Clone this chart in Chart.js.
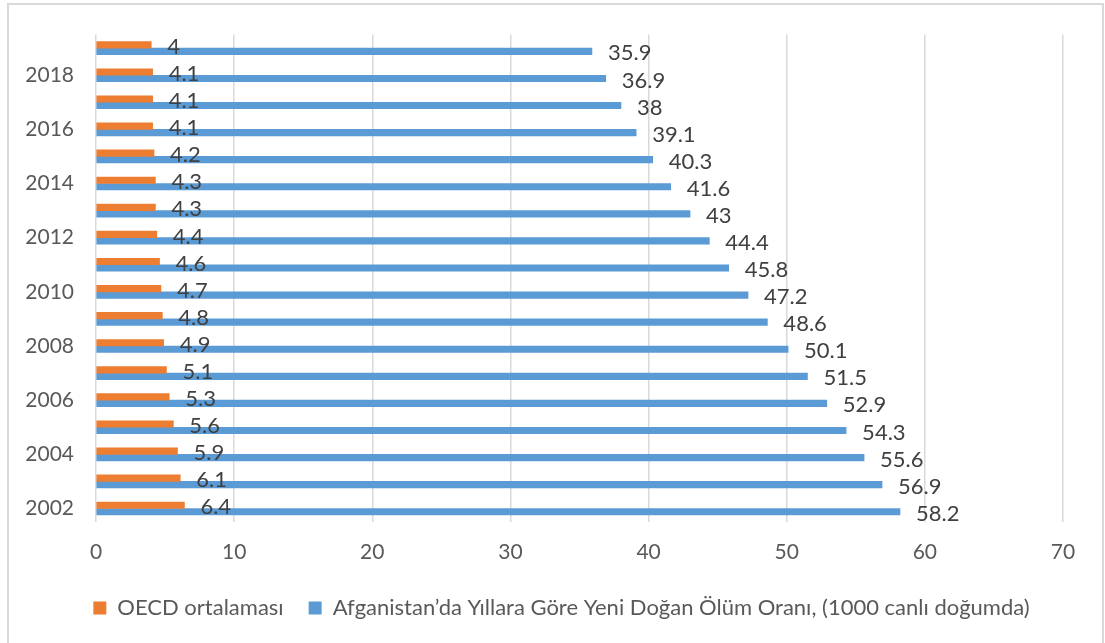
<!DOCTYPE html>
<html>
<head>
<meta charset="utf-8">
<script src="https://cdn.jsdelivr.net/npm/chart.js@4.4.0/dist/chart.umd.min.js"></script>
<style>
  html, body { margin: 0; padding: 0; background: #fff; }
  #wrap { position: relative; width: 1105px; height: 643px; overflow: hidden; }
  #frame { position: absolute; left: 7px; top: 3px; width: 1093px; height: 700px; border: 2px solid #d9d9d9; }
  canvas { position: absolute; left: 0; top: 0; }
</style>
</head>
<body>
<div id="wrap">
  <div id="frame"></div>
  <canvas id="chart" width="1105" height="643"></canvas>
</div>
<script>
// years from bottom (2002) to top (2019)
const years = ['2002', '2003', '2004', '2005', '2006', '2007', '2008', '2009', '2010',
  '2011', '2012', '2013', '2014', '2015', '2016', '2017', '2018', '2019'];
const oecdValues = [6.4, 6.1, 5.9, 5.6, 5.3, 5.1, 4.9, 4.8, 4.7, 4.6, 4.4, 4.3, 4.3, 4.2, 4.1, 4.1, 4.1, 4];
const afganValues = [58.2, 56.9, 55.6, 54.3, 52.9, 51.5, 50.1, 48.6, 47.2, 45.8, 44.4, 43, 41.6, 40.3, 39.1, 38, 36.9, 35.9];
const xTicks = [0, 10, 20, 30, 40, 50, 60, 70];

const FONT = 'Lato, "Open Sans", sans-serif';

// value labels just right of each bar end
const barLabels = {
  id: 'barLabels',
  afterDatasetsDraw(chart) {
    const ctx = chart.ctx;
    ctx.save();
    ctx.font = '22px ' + FONT;
    ctx.fillStyle = '#404040';
    ctx.textAlign = 'left';
    ctx.textBaseline = 'middle';
    chart.data.datasets.forEach((ds, i) => {
      chart.getDatasetMeta(i).data.forEach((bar, j) => {
        ctx.fillText(String(ds.data[j]), bar.x + 16, bar.y + 2);
      });
    });
    ctx.restore();
  }
};

// the legend sits a bit right of the canvas centre in the original
const legendShift = {
  id: 'legendShift',
  afterLayout(chart) {
    chart.legend.left += 25;
    chart.legend.right += 25;
  }
};

new Chart(document.getElementById('chart'), {
  type: 'bar',
  data: {
    labels: years,
    datasets: [
      {
        label: 'OECD ortalaması',
        data: oecdValues,
        backgroundColor: '#ed7d31',
        barThickness: 6.5
      },
      {
        label: 'Afganistan’da Yıllara Göre Yeni Doğan Ölüm Oranı, (1000 canlı doğumda)',
        data: afganValues,
        backgroundColor: '#5b9bd5',
        barThickness: 6.5
      }
    ]
  },
  options: {
    indexAxis: 'y',
    responsive: false,
    animation: false,
    layout: { padding: { left: 10, right: 42, top: 33, bottom: 14 } },
    scales: {
      x: {
        min: 0,
        max: 70,
        afterBuildTicks: (s) => { s.ticks = xTicks.map(v => ({ value: v })); },
        afterFit: (s) => { s.height = 50; },
        grid: { color: '#d9d9d9', lineWidth: 1.5, drawTicks: false },
        border: { display: false },
        ticks: { color: '#595959', font: { family: FONT, size: 21 }, padding: 18 }
      },
      y: {
        reverse: true,
        afterFit: (s) => { s.width = 86; },
        grid: { display: false, drawTicks: false },
        border: { display: false },
        ticks: {
          autoSkip: false,
          color: '#595959',
          font: { family: FONT, size: 21 },
          padding: 22,
          callback: function (value) {
            const y = this.getLabelForValue(value);
            return Number(y) % 2 === 0 ? y : '';
          }
        }
      }
    },
    plugins: {
      legend: {
        position: 'bottom',
        labels: {
          boxWidth: 13,
          boxHeight: 13,
          padding: 25,
          color: '#595959',
          font: { family: FONT, size: 22 }
        }
      },
      tooltip: { enabled: false }
    }
  },
  plugins: [barLabels, legendShift]
});
</script>
</body>
</html>
